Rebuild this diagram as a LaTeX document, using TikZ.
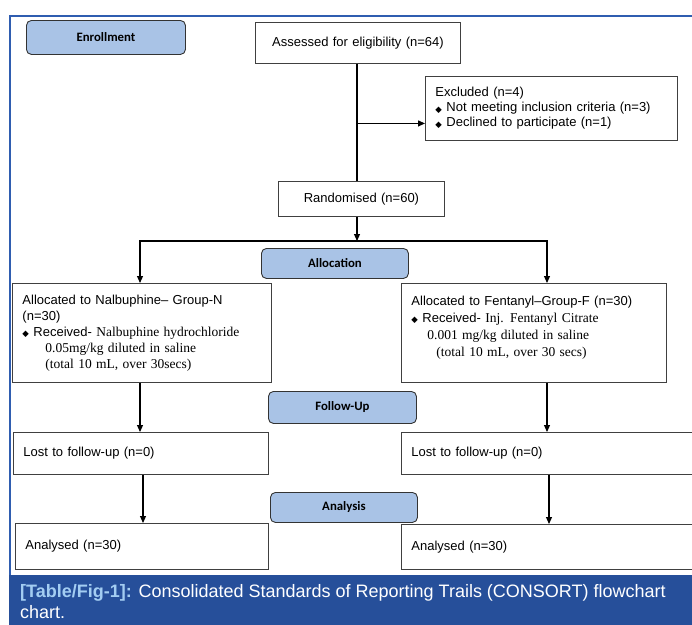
\documentclass[tikz,border=0pt]{standalone}
\usepackage{fontspec}
\setmainfont{Liberation Sans}
\newfontfamily\serif{Liberation Serif}
\newfontfamily\lbl{Carlito}
\newfontfamily\sym{DejaVu Sans}
\usetikzlibrary{arrows.meta}

\definecolor{frameblue}{HTML}{2F5DB0}
\definecolor{capblue}{HTML}{264F9A}
\definecolor{figblue}{HTML}{A3CDF2}
\definecolor{stagefill}{HTML}{A9C3E6}

\newcommand{\dmd}{{\sym\fontsize{8.5}{8}\selectfont\raisebox{-0.5pt}{\char"25C6}}\hspace{4.5pt}}

\begin{document}
\begin{tikzpicture}[x=1pt,y=-1pt,>={Triangle[length=7pt,width=6pt]},
  box/.style={draw=black!75,line width=0.9pt,anchor=north west,inner xsep=10pt,inner ysep=0pt,align=left,font=\fontsize{13}{15}\selectfont},
  stage/.style={draw=black!80,line width=0.9pt,rounded corners=5pt,fill=stagefill,anchor=north west,inner sep=0pt,font=\lbl\bfseries\fontsize{12.8}{14}\selectfont},
  link/.style={line width=1.1pt}]

\useasboundingbox (0,0) rectangle (692,624);

% The frame and caption
\draw[frameblue,line width=1.6pt] (10,575) -- (10,16) -- (693,16);
\fill[capblue] (9,575) rectangle (693,625);
\node[anchor=north west,inner sep=0pt,align=left,text=white,font=\fontsize{18}{20.5}\selectfont] (cap) at (20,584.5)
  {{\bfseries\color{figblue}[Table/Fig-1]:} Consolidated Standards of Reporting Trails (CONSORT) flowchart\\chart.};

% The stages
\node[stage,minimum width=159pt,minimum height=34pt] (enroll) at (26,20) {Enrollment};
\node[stage,minimum width=147pt,minimum height=30pt] (alloc) at (261,248) {Allocation};
\node[stage,minimum width=148pt,minimum height=32pt] (follow) at (268,391) {Follow-Up};
\node[stage,minimum width=147pt,minimum height=30pt] (anal) at (270,492) {Analysis};

% The boxes
\node[box,align=center,text width=185pt,minimum height=41pt] (assess) at (255,22) {Assessed for eligibility (n=64)};
\node[box,text width=232pt,minimum height=64pt] (excl) at (425,76)
  {Excluded (n=4)\\ \dmd Not meeting inclusion criteria (n=3)\\ \dmd Declined to participate (n=1)};
\node[box,align=center,text width=146pt,minimum height=35pt] (rand) at (278,181) {Randomised (n=60)};

\node[box,text width=239pt,minimum height=99pt,font=\fontsize{13}{16}\selectfont] (nalb) at (12,283)
  {Allocated to Nalbuphine– Group-N\\
   (n=30)\\
   \dmd Received- {\serif\fontsize{13.5}{16}\selectfont Nalbuphine hydrochloride}\\
   \hspace*{23pt}{\serif\fontsize{13.5}{16}\selectfont 0.05mg/kg diluted in saline}\\
   \hspace*{23pt}{\serif\fontsize{13.5}{16}\selectfont (total 10 mL, over 30secs)}};
\node[box,text width=245pt,minimum height=99pt,font=\fontsize{13}{17}\selectfont] (fent) at (401,283)
  {Allocated to Fentanyl–Group-F (n=30)\\
   \dmd Received- {\serif\fontsize{13.5}{17}\selectfont Inj. Fentanyl Citrate}\\
   \hspace*{16pt}{\serif\fontsize{13.5}{17}\selectfont 0.001 mg/kg diluted in saline}\\
   \hspace*{25pt}{\serif\fontsize{13.5}{17}\selectfont (total 10 mL, over 30 secs)}\\[-3pt]\mbox{}};

\node[box,text width=235pt,minimum height=42pt] (lostN) at (13,432) {Lost to follow-up (n=0)};
\node[box,text width=275pt,minimum height=42pt] (lostF) at (401,432) {Lost to follow-up (n=0)};
\node[box,text width=233pt,minimum height=46pt] (analN) at (15,523) {Analysed (n=30)};
\node[box,text width=275pt,minimum height=45pt] (analF) at (401,524) {Analysed (n=30)};

% The connectors
\coordinate (split) at (357,241);
\coordinate (exclin) at ([yshift=-15pt]excl.west);
\coordinate (colN) at (140,0);
\coordinate (colF) at (547,0);
\coordinate (colNN) at (143,0);
\coordinate (colFF) at (549,0);

\draw[link] (split |- assess.south) -- (split |- rand.north);
\draw[link,->] (split |- exclin) -- (exclin);
\draw[link,->] (split |- rand.south) -- (split);
\draw[link,->] (split) -| (colN |- nalb.north);
\draw[link,->] (split) -| (colF |- fent.north);

\foreach \c/\a/\b in {colN/nalb/lostN, colF/fent/lostF, colNN/lostN/analN, colFF/lostF/analF}
{
	\draw[link,->] (\c |- \a.south) -- (\c |- \b.north);
}

\end{tikzpicture}
\end{document}
